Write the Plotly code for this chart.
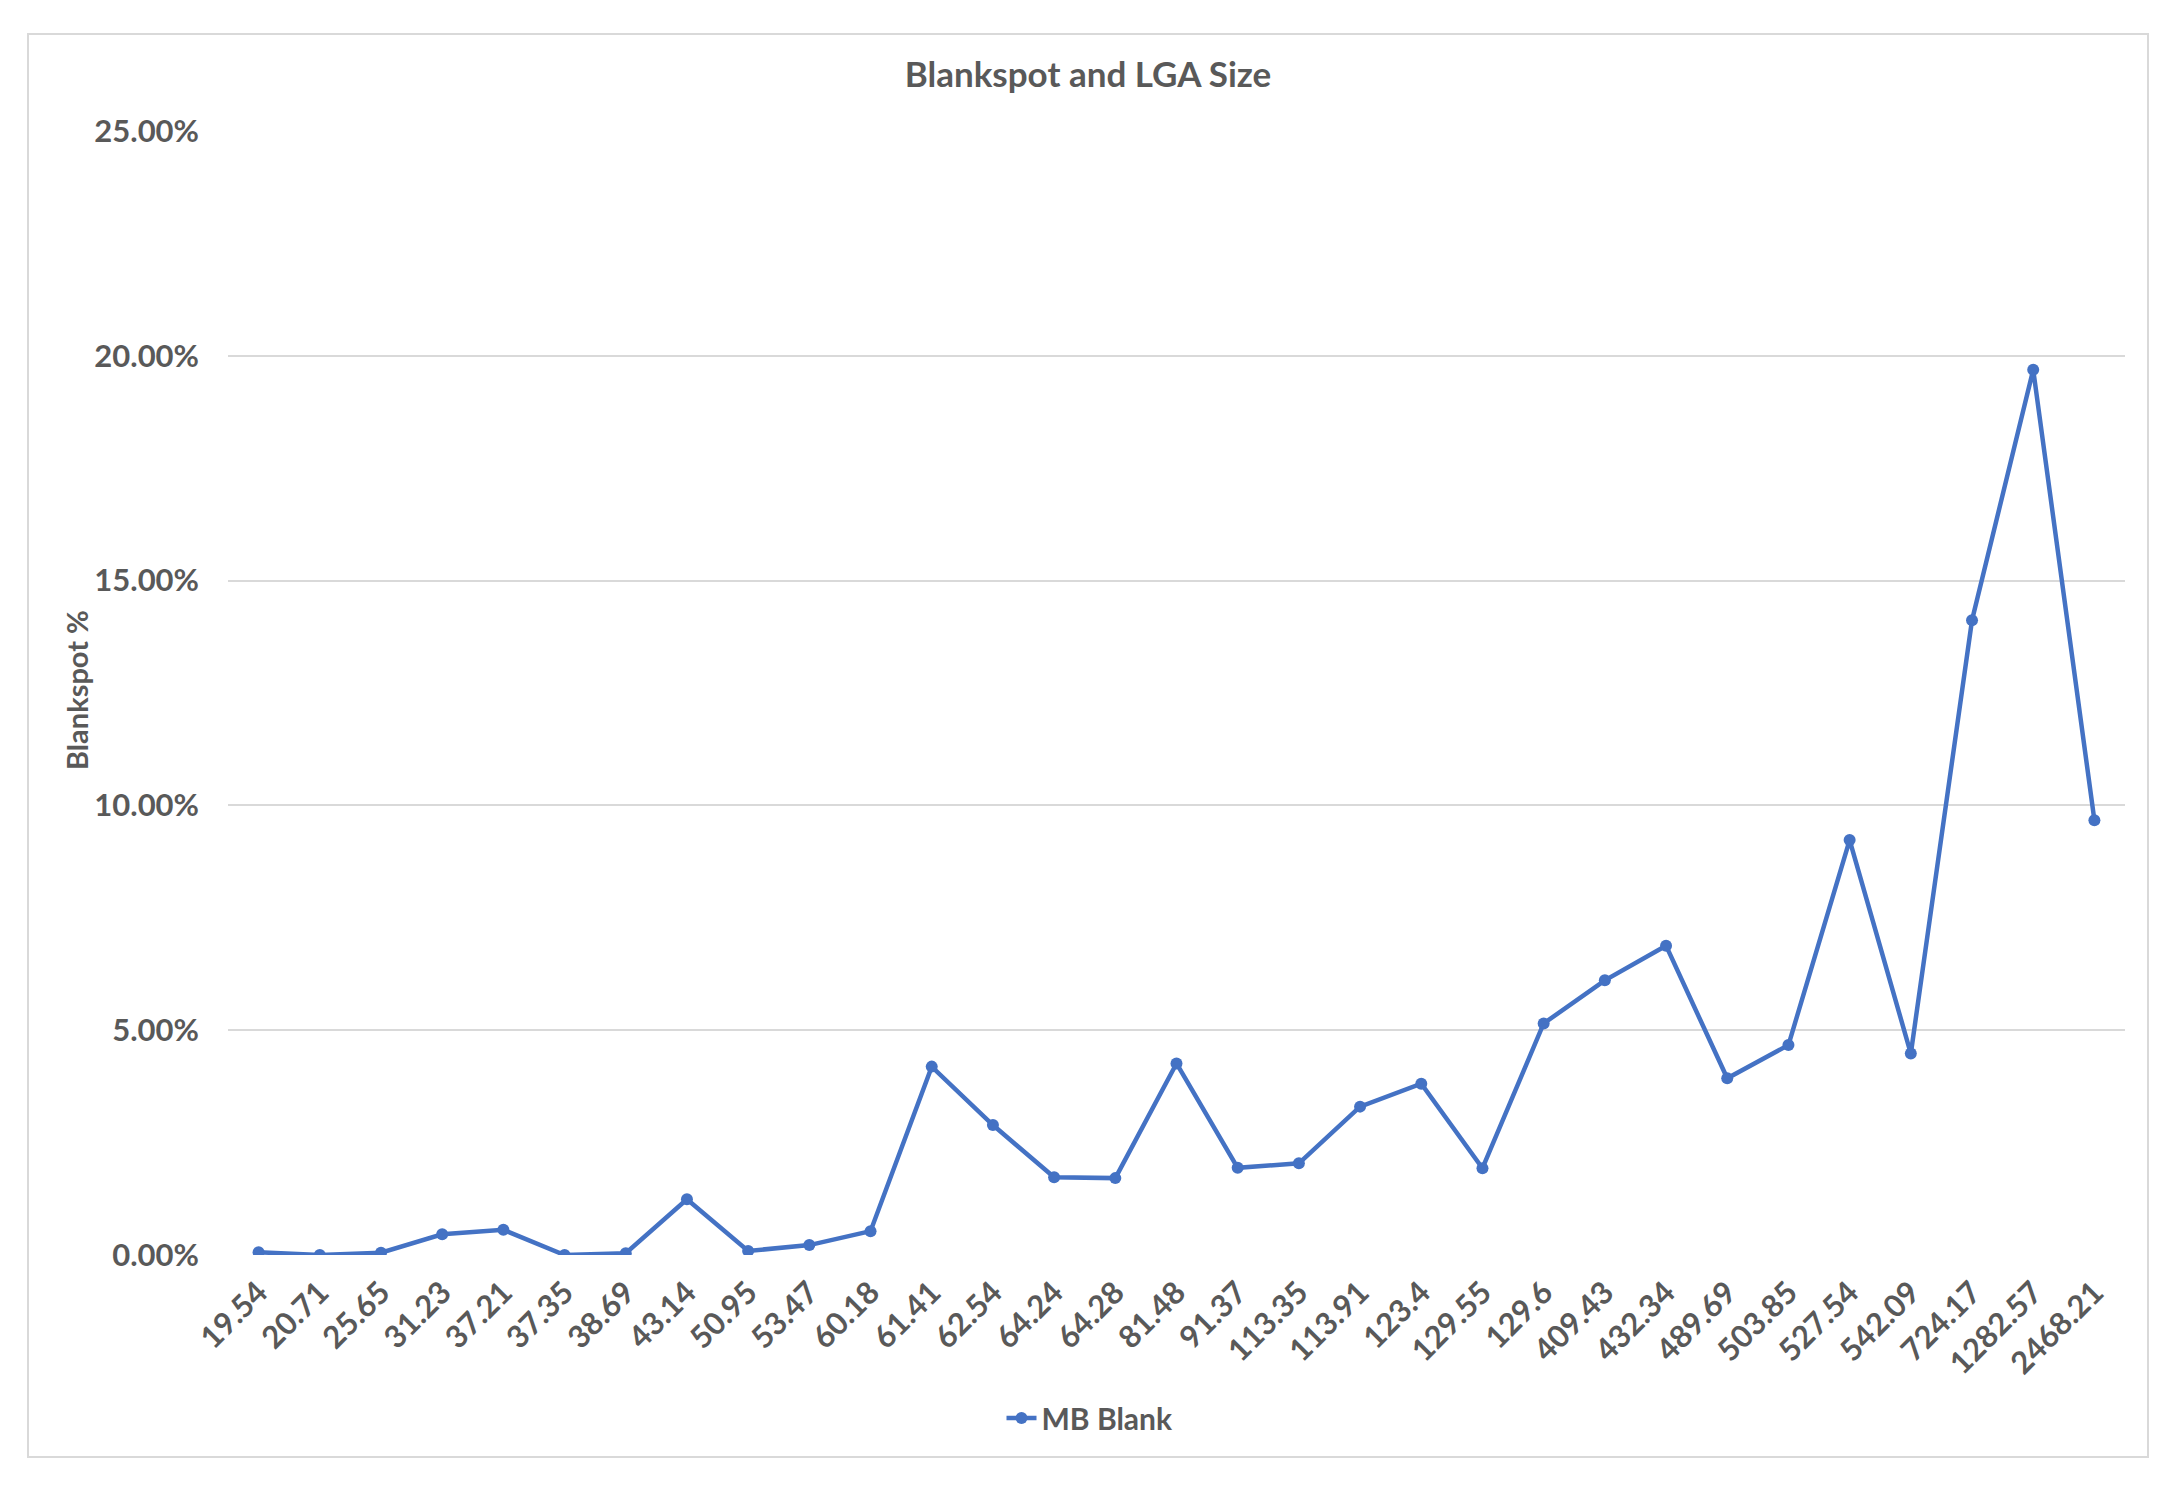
import plotly.graph_objects as go

lga_size = ["19.54", "20.71", "25.65", "31.23", "37.21", "37.35", "38.69", "43.14",
            "50.95", "53.47", "60.18", "61.41", "62.54", "64.24", "64.28", "81.48",
            "91.37", "113.35", "113.91", "123.4", "129.55", "129.6", "409.43",
            "432.34", "489.69", "503.85", "527.54", "542.09", "724.17", "1282.57",
            "2468.21"]
mb_blank = [0.0006, 0.0000, 0.0005, 0.0046, 0.0056, 0.0000, 0.0004, 0.0124,
            0.0009, 0.0022, 0.0053, 0.0419, 0.0289, 0.0173, 0.0171, 0.0426,
            0.0194, 0.0204, 0.0330, 0.0381, 0.0193, 0.0515, 0.0611,
            0.0688, 0.0393, 0.0467, 0.0923, 0.0448, 0.1412, 0.1969,
            0.0967]
y_ticks = [0, 0.05, 0.10, 0.15, 0.20, 0.25]

OFF = 8  # default body margin of the html page
W, H = 2182 - OFF, 1495 - OFF
# target page-pixel positions, converted to figure pixels
L, R, T, B = 228 - OFF, 2125 - OFF, 131 - OFF, 1255 - OFF
pw, ph = R - L, B - T

def px(x):
    return (x - OFF - L) / pw

def py(y):
    return (B - (y - OFF)) / ph

GRAY = "#595959"
FONT = "Lato"

fig = go.Figure()
fig.add_trace(go.Scatter(
    x=lga_size, y=mb_blank, mode="lines+markers", name="MB Blank",
    line=dict(color="#4472C4", width=4.5),
    marker=dict(color="#4472C4", size=12, symbol="circle"),
))

fig.update_layout(
    width=W, height=H,
    margin=dict(l=L, r=W - R, t=T, b=H - B),
    paper_bgcolor="white", plot_bgcolor="white",
    font=dict(family=FONT, color=GRAY, size=30),
    title=dict(text="Blankspot and LGA Size", x=(1088 - OFF) / W, xanchor="center",
               y=1 - (75 - OFF) / H, yanchor="middle", yref="container",
               font=dict(family=FONT, size=35, color=GRAY, weight="bold")),
    showlegend=True,
    legend=dict(orientation="h", x=px(1090), xanchor="center",
                y=py(1418), yanchor="middle",
                font=dict(family=FONT, size=30, color=GRAY, weight="bold")),
    xaxis=dict(type="category", range=[-0.5, len(lga_size) - 0.5],
               tickangle=-45, showgrid=False, zeroline=False, showline=False,
               ticks="", ticklabelstandoff=12,
               tickfont=dict(family=FONT, size=31, color=GRAY, weight="bold")),
    yaxis=dict(range=[0, 0.25], tickvals=y_ticks, tickformat=".2%",
               showgrid=True, gridcolor="#D9D9D9", gridwidth=1.5,
               zeroline=False, showline=False, ticks="", ticklabelstandoff=28,
               tickfont=dict(family=FONT, size=31, color=GRAY, weight="bold")),
    annotations=[dict(text="Blankspot %", textangle=-90, xref="paper", yref="paper",
                      x=px(76), y=py(690), xanchor="center", yanchor="middle",
                      showarrow=False,
                      font=dict(family=FONT, size=29, color=GRAY, weight="bold"))],
    shapes=[dict(type="rect", xref="paper", yref="paper",
                 x0=px(28), x1=px(2148), y0=py(1457), y1=py(34),
                 line=dict(color="#D9D9D9", width=2), layer="below")],
)

fig.write_html("out.html")
